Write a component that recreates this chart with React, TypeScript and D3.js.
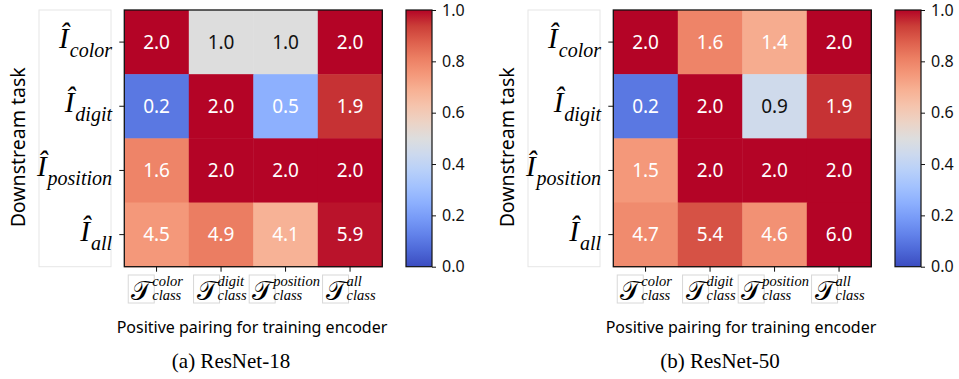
import React, { useRef, useEffect } from 'react';
import * as d3 from 'd3';

// row / column keys (downstream task vs. positive pairing)
const ROWS = ['color', 'digit', 'position', 'all'];
const COLS = ['color', 'digit', 'position', 'all'];
// max achievable value per downstream task, used to normalise colours
const ROW_MAX = [2, 2, 2, 6];

const RESNET18 = [
  [2.0, 1.0, 1.0, 2.0],
  [0.2, 2.0, 0.5, 1.9],
  [1.6, 2.0, 2.0, 2.0],
  [4.5, 4.9, 4.1, 5.9],
];
const RESNET50 = [
  [2.0, 1.6, 1.4, 2.0],
  [0.2, 2.0, 0.9, 1.9],
  [1.5, 2.0, 2.0, 2.0],
  [4.7, 5.4, 4.6, 6.0],
];
const CAPTIONS = ['(a) ResNet-18', '(b) ResNet-50'];
const CBAR_TICKS = [0, 0.2, 0.4, 0.6, 0.8, 1.0];

// matplotlib coolwarm sampled every 1/16
const COOLWARM = [
  '#3b4cc0', '#4d68d7', '#6282ea', '#779af7', '#8db0fe', '#a3c2fe', '#b8d0f9', '#ccd9ee',
  '#dddddd', '#ecd3c5', '#f5c4ad', '#f7b194', '#f4987a', '#ec7f63', '#de604d', '#cb3e38', '#b40426',
];
const coolwarm = d3
  .scaleLinear<string>()
  .domain(COOLWARM.map((_, i) => i / (COOLWARM.length - 1)))
  .range(COOLWARM)
  .interpolate(d3.interpolateRgb)
  .clamp(true);

const SANS = '"Noto Sans", "DejaVu Sans", sans-serif';
const SERIF = '"Liberation Serif", "DejaVu Serif", serif';

function drawPanel(root, data, caption, ox) {
  const g = root.append('g').attr('transform', `translate(${ox},0)`);
  const hm = { x0: 124.3, x1: 382.3, y0: 10, y1: 266.7 };

  const x = d3.scaleBand().domain(COLS).range([hm.x0, hm.x1]);
  const y = d3.scaleBand().domain(ROWS).range([hm.y0, hm.y1]);

  // y label box
  g.append('rect')
    .attr('x', 39).attr('y', hm.y0).attr('width', 72).attr('height', hm.y1 - hm.y0)
    .attr('fill', '#fff').attr('stroke', '#e6e6e6').attr('stroke-width', 1);

  const cells = [];
  data.forEach((row, i) => row.forEach((v, j) => cells.push({ r: ROWS[i], c: COLS[j], v, n: v / ROW_MAX[i] })));

  g.selectAll('rect.cell')
    .data(cells)
    .join('rect')
    .attr('class', 'cell')
    .attr('x', (d) => x(d.c))
    .attr('y', (d) => y(d.r))
    .attr('width', x.bandwidth() + 0.5)
    .attr('height', y.bandwidth() + 0.5)
    .attr('fill', (d) => coolwarm(d.n));

  g.selectAll('text.val')
    .data(cells)
    .join('text')
    .attr('class', 'val')
    .attr('x', (d) => x(d.c) + x.bandwidth() / 2)
    .attr('y', (d) => y(d.r) + y.bandwidth() / 2)
    .attr('dy', '0.36em')
    .attr('text-anchor', 'middle')
    .attr('font-family', SANS)
    .attr('font-size', 19)
    .attr('fill', (d) => (Math.abs(d.n - 0.5) < 0.08 ? '#111' : '#fff'))
    .text((d) => d.v.toFixed(1));

  g.append('rect')
    .attr('x', hm.x0).attr('y', hm.y0).attr('width', hm.x1 - hm.x0).attr('height', hm.y1 - hm.y0)
    .attr('fill', 'none').attr('stroke', '#111').attr('stroke-width', 1.3);

  // y ticks + math labels, right-aligned before the tick
  ROWS.forEach((r) => {
    const cy = y(r) + y.bandwidth() / 2;
    g.append('line').attr('x1', hm.x0 - 5).attr('x2', hm.x0).attr('y1', cy).attr('y2', cy)
      .attr('stroke', '#111').attr('stroke-width', 1);
    const t = g.append('text')
      .attr('x', 112).attr('y', cy + 6)
      .attr('text-anchor', 'end')
      .attr('font-family', SERIF).attr('font-style', 'italic')
      .attr('fill', '#000');
    t.append('tspan').attr('font-size', 29).text('Î');
    t.append('tspan').attr('font-size', 20).attr('dx', 1).attr('dy', 9).text(r);
  });

  // x ticks + math labels
  COLS.forEach((c) => {
    const cx = x(c) + x.bandwidth() / 2;
    g.append('line').attr('x1', cx).attr('x2', cx).attr('y1', hm.y1).attr('y2', hm.y1 + 5)
      .attr('stroke', '#111').attr('stroke-width', 1);
    const lab = g.append('g');
    const ss = lab.append('text').attr('font-family', SERIF).attr('font-style', 'italic')
      .attr('font-size', 14.5);
    const sup = ss.append('tspan').attr('y', 285.5).text(c);
    const sub = ss.append('tspan').attr('y', 299.5).text('class');
    const sw = Math.max(sup.node().getComputedTextLength(), sub.node().getComputedTextLength());
    const T = lab.append('text').attr('y', 300)
      .attr('font-family', '"DejaVu Serif", "DejaVu Sans", serif')
      .attr('font-size', 27).text('𝒯');
    const tw = Math.max(22, T.node().getComputedTextLength());
    const left = cx - (tw + sw) / 2;
    T.attr('x', left + 1);
    lab.insert('rect', 'text')
      .attr('x', left - 2).attr('y', 275).attr('width', tw + 4).attr('height', 28)
      .attr('fill', 'none').attr('stroke', '#d8d8d8').attr('stroke-width', 1);
    sup.attr('x', left + tw);
    sub.attr('x', left + tw);
  });

  // axis titles
  g.append('text')
    .attr('transform', `translate(25,${(hm.y0 + hm.y1) / 2 + 9}) rotate(-90)`)
    .attr('text-anchor', 'middle')
    .attr('font-family', SANS).attr('font-size', 19.5)
    .text('Downstream task');
  g.append('text')
    .attr('x', 252).attr('y', 333)
    .attr('text-anchor', 'middle')
    .attr('font-family', SANS).attr('font-size', 16)
    .text('Positive pairing for training encoder');
  g.append('text')
    .attr('x', 231).attr('y', 368)
    .attr('text-anchor', 'middle')
    .attr('font-family', SERIF).attr('font-size', 21)
    .text(caption);

  // colour bar
  const cb = { x0: 406, x1: 432 };
  const cy = d3.scaleLinear().domain([0, 1]).range([hm.y1, hm.y0]);
  const gid = `cw-${ox}`;
  const grad = root.append('defs').append('linearGradient')
    .attr('id', gid).attr('x1', 0).attr('y1', 1).attr('x2', 0).attr('y2', 0);
  COOLWARM.forEach((col, i) => {
    grad.append('stop').attr('offset', i / (COOLWARM.length - 1)).attr('stop-color', col);
  });
  g.append('rect')
    .attr('x', cb.x0).attr('y', hm.y0).attr('width', cb.x1 - cb.x0).attr('height', hm.y1 - hm.y0)
    .attr('fill', `url(#${gid})`).attr('stroke', '#111').attr('stroke-width', 1.2);
  const ax = g.append('g').attr('transform', `translate(${cb.x1},0)`)
    .call(d3.axisRight(cy).tickValues(CBAR_TICKS).tickFormat(d3.format('.1f')).tickSize(4).tickPadding(6));
  ax.select('.domain').remove();
  ax.selectAll('line').attr('stroke', '#111');
  ax.selectAll('text').attr('font-family', SANS).attr('font-size', 16).attr('fill', '#111');
}

export default function App() {
  const svgRef = useRef(null);

  useEffect(() => {
    const svg = d3.select(svgRef.current);
    svg.selectAll('*').remove();
    drawPanel(svg, RESNET18, CAPTIONS[0], 0);
    drawPanel(svg, RESNET50, CAPTIONS[1], 489);
  }, []);

  return (
    <svg
      ref={svgRef}
      width={959}
      height={379}
      style={{ position: 'absolute', left: 0, top: 0, background: '#fff' }}
    />
  );
}
